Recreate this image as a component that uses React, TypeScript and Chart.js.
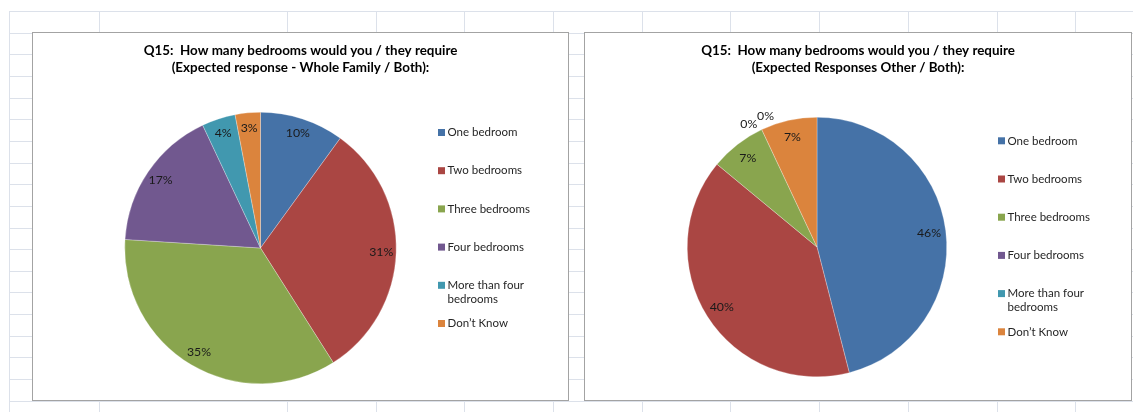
import React, { useEffect, useRef } from 'react';
import { Chart, registerables } from 'chart.js';

Chart.register(...registerables);

// ---------- data ----------
const categories = [
  'One bedroom',
  'Two bedrooms',
  'Three bedrooms',
  'Four bedrooms',
  'More than four bedrooms',
  'Don\u2019t Know',
];
const wholeFamilyValues = [10, 31, 35, 17, 4, 3];
const otherValues = [46, 40, 7, 0, 0, 7];
const titleWholeFamily = [
  'Q15:  How many bedrooms would you / they require',
  '(Expected response - Whole Family / Both):',
];
const titleOther = [
  'Q15:  How many bedrooms would you / they require',
  '(Expected Responses Other / Both):',
];
const sliceColors = ['#4572A7', '#AA4643', '#89A54E', '#71588F', '#4198AF', '#DB843D'];

// ---------- styling ----------
const FONT = 'Lato, "Open Sans", "DejaVu Sans", sans-serif';
const GRID = '#dce1ea';

const decorPlugin = {
  id: 'excelDecor',
  afterDatasetsDraw(chart: any, _args: any, opts: any) {
    const ctx = chart.ctx;
    const meta = chart.getDatasetMeta(0);
    const values: number[] = chart.data.datasets[0].data;
    ctx.save();
    // data labels
    ctx.font = `${opts.labelSize}px ${FONT}`;
    ctx.fillStyle = '#1a1a1a';
    ctx.textAlign = 'center';
    ctx.textBaseline = 'middle';
    const zeroIdx: number[] = [];
    values.forEach((v, i) => { if (v === 0) zeroIdx.push(i); });
    meta.data.forEach((arc: any, i: number) => {
      const p = arc.getProps(['x', 'y', 'startAngle', 'endAngle', 'outerRadius'], true);
      const v = values[i];
      let mid = (p.startAngle + p.endAngle) / 2;
      let r = p.outerRadius * opts.labelRatio;
      if (v === 0) {
        const k = zeroIdx.indexOf(i);
        mid += ((k - (zeroIdx.length - 1) / 2) * 7.5 * Math.PI) / 180;
        r = p.outerRadius * 1.085;
      }
      ctx.fillText(`${v}%`, p.x + Math.cos(mid) * r, p.y + Math.sin(mid) * r);
    });

    // title
    const w = chart.width;
    ctx.font = `bold ${opts.titleSize}px ${FONT}`;
    ctx.fillStyle = '#000';
    opts.title.forEach((line: string, i: number) => {
      ctx.fillText(line, w / 2, opts.titleY + i * opts.titleGap);
    });

    // legend
    ctx.font = `${opts.legendSize}px ${FONT}`;
    ctx.textAlign = 'left';
    const colors: string[] = chart.data.datasets[0].backgroundColor;
    (chart.data.labels as string[]).forEach((label, i) => {
      const y = opts.legendY + i * opts.legendStep;
      ctx.fillStyle = colors[i];
      ctx.fillRect(opts.legendX, y - 3.5, 7, 7);
      ctx.fillStyle = '#262626';
      // wrap
      const words = label.split(' ');
      const lines: string[] = [];
      let cur = '';
      words.forEach((wd) => {
        const test = cur ? cur + ' ' + wd : wd;
        if (ctx.measureText(test).width > opts.legendMaxWidth && cur) {
          lines.push(cur);
          cur = wd;
        } else cur = test;
      });
      if (cur) lines.push(cur);
      lines.forEach((ln, j) => ctx.fillText(ln, opts.legendX + 9.5, y + j * 14));
    });
    ctx.restore();
  },
};

type BoxProps = {
  left: number;
  top: number;
  width: number;
  height: number;
  values: number[];
  title: string[];
  padding: { left: number; right: number; top: number; bottom: number };
  legendX: number;
  legendY: number;
  labelRatio: number;
};

function ChartBox(props: BoxProps) {
  const ref = useRef<HTMLCanvasElement | null>(null);
  const cw = props.width - 2;
  const ch = props.height - 2;
  useEffect(() => {
    if (!ref.current) return;
    const chart = new Chart(ref.current, {
      type: 'pie',
      data: {
        labels: categories,
        datasets: [
          {
            data: props.values,
            backgroundColor: sliceColors,
            borderWidth: 0.5,
            borderColor: 'rgba(255,255,255,0.55)',
          },
        ],
      },
      options: {
        animation: false,
        responsive: false,
        maintainAspectRatio: false,
        events: [],
        layout: { padding: props.padding },
        plugins: {
          legend: { display: false },
          title: { display: false },
          tooltip: { enabled: false },
          excelDecor: {
            title: props.title,
            titleY: 17.5,
            titleGap: 17,
            titleSize: 13.4,
            labelSize: 12.3,
            labelRatio: props.labelRatio,
            legendSize: 11.5,
            legendX: props.legendX,
            legendY: props.legendY,
            legendStep: 38.2,
            legendMaxWidth: 88,
          },
        },
      } as any,
      plugins: [decorPlugin],
    });
    return () => chart.destroy();
  }, []);
  return (
    <div
      style={{
        position: 'absolute',
        left: props.left,
        top: props.top,
        width: props.width,
        height: props.height,
        boxSizing: 'border-box',
        border: '1px solid #a3a3a3',
        background: '#fff',
      }}
    >
      <canvas ref={ref} width={cw} height={ch} style={{ display: 'block', width: cw, height: ch }} />
    </div>
  );
}

const colXs = [9, 99, 287, 376, 464, 553, 642, 730, 819, 908, 997, 1075];

export default function App() {
  const rows: number[] = [];
  for (let k = 0; k < 19; k++) rows.push(Math.round(11 + k * 21.65));
  return (
    <div
      style={{
        position: 'fixed',
        left: 0,
        top: 0,
        width: 1133,
        height: 412,
        background: '#fff',
        overflow: 'hidden',
      }}
    >
      {rows.map((y) => (
        <div key={'r' + y} style={{ position: 'absolute', left: 9, top: y, width: 1124, height: 1, background: GRID }} />
      ))}
      {colXs.map((x) => (
        <div key={'c' + x} style={{ position: 'absolute', left: x, top: 11, width: 1, height: 401, background: GRID }} />
      ))}
      <ChartBox
        left={32}
        top={32}
        width={537}
        height={369}
        values={wholeFamilyValues}
        title={titleWholeFamily}
        padding={{ left: 91.5, right: 171.5, top: 79, bottom: 16 }}
        legendX={405}
        legendY={99.5}
        labelRatio={0.89}
      />
      <ChartBox
        left={584}
        top={32}
        width={548}
        height={369}
        values={otherValues}
        title={titleOther}
        padding={{ left: 102, right: 184, top: 84, bottom: 23 }}
        legendX={413}
        legendY={107.8}
        labelRatio={0.87}
      />
    </div>
  );
}
